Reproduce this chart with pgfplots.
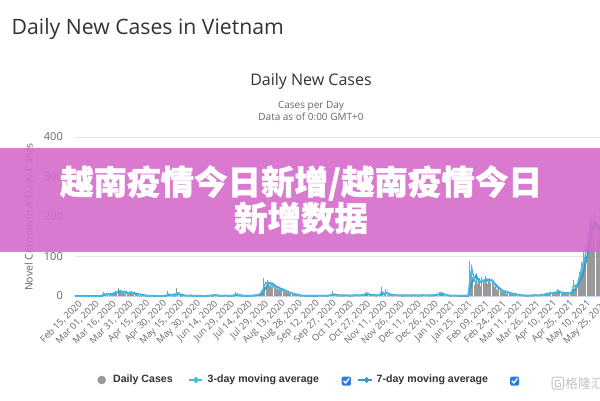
\documentclass[border=0pt]{standalone}
\usepackage{pgfplots}
\pgfplotsset{compat=1.18}
\usepackage{fontspec}
\setmainfont{Open Sans}
\newfontfamily\legendfont{Liberation Sans}
\newfontfamily\cjk{Noto Sans CJK SC}
\newfontfamily\cjkheavy[FakeBold=1.2]{Noto Sans CJK SC}
\definecolor{cTitle}{HTML}{333333}
\definecolor{cSub}{HTML}{666666}
\definecolor{cGrid}{HTML}{E6E6E6}
\definecolor{cAxis}{HTML}{CCD6EB}
\definecolor{cBar}{HTML}{999999}
\definecolor{cThree}{HTML}{41BEEB}
\definecolor{cSeven}{HTML}{2E9AC9}
\definecolor{cBand}{RGB}{214,107,203}
\definecolor{cBox}{HTML}{2A7BE4}
\definecolor{cMark}{HTML}{C4C4C4}
\begin{document}
\begin{tikzpicture}[x=1pt,y=1pt]
\path[use as bounding box,fill=white] (0,0) rectangle (600,400);
\node[anchor=base west,inner sep=0pt,text=cTitle,font=\fontsize{21.2}{23}\selectfont] at (11.5,365) {Daily New Cases in Vietnam};
\node[anchor=base,inner sep=0pt,text=cTitle,font=\fontsize{16}{18}\selectfont] at (311,315) {Daily New Cases};
\node[anchor=base,inner sep=0pt,text=cSub,font=\fontsize{10}{12}\selectfont] at (311,291.7) {Cases per Day};
\node[anchor=base,inner sep=0pt,text=cSub,font=\fontsize{10}{12}\selectfont] at (311,279.3) {Data as of 0:00 GMT+0};
\node[rotate=90,inner sep=0pt,text=cSub,font=\fontsize{10.5}{12}\selectfont] at (30,183) {Novel Coronavirus Daily Cases};
\begin{axis}[
  at={(75pt,104pt)}, anchor=south west, scale only axis,
  width=533.4pt, height=159pt,
  xmin=-2, xmax=470, ymin=0, ymax=400,
  axis lines*=left,
  y axis line style={draw=none},
  x axis line style={draw=cAxis,line width=0.8pt,-},
  ytick={0,100,200,300,400},
  ymajorgrids, grid style={cGrid,line width=0.8pt},
  xtick={0,15,...,465},
  xticklabels={{Feb 15, 2020},{Mar 01, 2020},{Mar 16, 2020},{Mar 31, 2020},{Apr 15, 2020},{Apr 30, 2020},{May 15, 2020},{May 30, 2020},{Jun 14, 2020},{Jun 29, 2020},{Jul 14, 2020},{Jul 29, 2020},{Aug 13, 2020},{Aug 28, 2020},{Sep 12, 2020},{Sep 27, 2020},{Oct 12, 2020},{Oct 27, 2020},{Nov 11, 2020},{Nov 26, 2020},{Dec 11, 2020},{Dec 26, 2020},{Jan 10, 2021},{Jan 25, 2021},{Feb 09, 2021},{Feb 24, 2021},{Mar 11, 2021},{Mar 26, 2021},{Apr 10, 2021},{Apr 25, 2021},{May 10, 2021},{May 25, 2021}},
  major tick length=0pt,
  /pgf/number format/assume math mode=true,
  yticklabel style={font=\fontsize{11}{12}\selectfont,text=cSub,inner sep=0pt,xshift=-12pt},
  xticklabel style={font=\fontsize{9.3}{10}\selectfont,text=cSub,rotate=45,anchor=east,inner sep=0pt,xshift=-2pt,yshift=-7pt},
  clip=true,
]
\addplot[ycomb,draw=cBar,line width=0.75pt,mark=none] coordinates {
(20,1)(21,1)(22,3)(23,9)(24,4)(26,8)(27,5)(28,6)(29,4)(30,4)(31,5)(32,10)(33,10)(34,11)(35,6)(36,19)(37,14)(38,10)(39,11)(40,7)(41,12)(42,5)(43,5)(44,10)(45,8)(46,8)(47,12)(48,9)(49,5)(50,4)(51,4)(52,3)(53,4)(54,8)(55,1)(56,2)(57,1)(58,3)(60,1)(63,2)(64,1)(67,2)(68,1)(73,1)(80,12)(81,2)(84,3)(85,1)(88,19)(89,4)(92,1)(94,3)(96,2)(100,4)(103,1)(106,1)(108,2)(112,1)(115,3)(118,2)(120,4)(122,5)(123,2)(126,1)(129,3)(131,2)(133,1)(136,2)(138,1)(140,11)(141,3)(144,2)(146,1)(149,3)(152,2)(154,1)(156,4)(158,3)(159,5)(160,2)(161,6)(162,8)(163,15)(164,10)(165,45)(166,30)(167,28)(168,40)(169,35)(170,26)(171,30)(172,22)(173,27)(174,20)(175,25)(176,18)(177,22)(178,15)(179,20)(180,14)(181,17)(182,12)(183,16)(184,10)(185,12)(186,8)(187,9)(188,6)(189,7)(190,5)(191,4)(192,6)(193,3)(194,4)(195,2)(196,3)(197,1)(199,2)(201,1)(203,2)(205,1)(208,2)(210,1)(212,2)(215,3)(217,1)(219,2)(221,1)(223,3)(224,2)(226,12)(227,2)(229,3)(231,1)(233,2)(235,4)(237,2)(239,3)(241,1)(243,2)(245,4)(247,3)(249,2)(251,5)(252,3)(254,8)(255,4)(256,11)(257,3)(259,2)(261,4)(263,3)(265,2)(267,5)(268,3)(269,22)(270,4)(272,6)(273,17)(274,3)(276,4)(278,2)(280,3)(282,5)(284,2)(286,3)(288,1)(290,4)(292,2)(294,3)(296,2)(298,4)(300,3)(302,2)(304,3)(306,5)(308,3)(310,2)(312,4)(314,3)(316,5)(318,6)(320,9)(321,7)(322,10)(323,5)(324,4)(326,3)(328,2)(330,1)(332,3)(334,2)(336,1)(338,2)(340,1)(342,2)(344,1)(346,1)
(347,88)(348,55)(349,68)(350,47)(351,28)(352,35)(353,42)(354,30)(355,38)(356,45)(357,25)(358,48)(359,40)(360,33)(361,50)(362,45)(363,30)(364,38)(365,45)(366,32)(367,40)(368,28)(369,22)(370,30)(371,18)(372,15)(373,20)(374,12)(375,15)(376,10)(377,12)(378,8)(379,15)(380,6)(381,10)(382,7)(383,5)(384,8)(385,4)(386,6)(387,3)(388,5)(389,2)(390,3)(392,2)(394,3)(396,2)(398,1)(400,3)(402,2)(404,4)(406,2)(408,3)(410,4)(411,6)(413,5)(414,8)(415,6)(416,4)(417,7)(418,9)(419,6)(420,8)(421,10)(422,7)(423,9)(424,12)(425,17)(426,10)(427,8)(428,6)(429,9)(430,5)(431,7)(432,8)(433,6)(434,9)(435,5)(436,8)(437,12)(438,20)(439,40)(440,15)(441,25)(442,30)(443,45)(444,60)(445,55)(446,85)(447,70)(448,110)(449,95)(450,130)(451,125)(452,160)(453,190)(454,170)(455,200)(456,185)(457,150)(458,210)(459,175)(460,160)(461,140)(462,180)(463,165)
};
\addplot[draw=cSeven,line width=1.6pt,mark=none] coordinates {
(-2,0)(19,0)(20,0.1)(22,0.7)(24,2.6)(26,3.6)(28,5)(30,5.1)(32,6)(34,7.1)(36,9.3)(38,10.9)(40,11)(42,11.1)(44,9.1)(46,8.1)(48,8.1)(50,8.1)(52,6.4)(54,5.1)(56,3.7)(58,3.1)(60,1.7)(62,1.1)(64,0.6)(66,0.6)(68,0.6)(70,0.4)(72,0.3)(76,0.1)(80,1.9)(84,2.4)(88,5.1)(92,3.9)(96,0.9)(100,0.9)(104,0.7)(108,0.4)(112,0.4)(116,0.6)(120,1.3)(124,1.6)(128,0.6)(132,0.9)(136,0.4)(140,2)(144,2.4)(148,0.6)(152,0.7)(156,1)(158,1.4)(160,2.1)(162,3.4)(164,6.1)(165,12.4)(166,16.7)(167,20.7)(168,25.1)(169,28.7)(170,32.6)(171,32.6)(172,31.6)(173,31.1)(174,28.6)(175,26.4)(176,24)(177,23.4)(178,21.3)(179,20.1)(180,19.1)(182,16.6)(184,14.4)(186,11.4)(188,9)(190,7.1)(192,5.3)(194,4.1)(196,2.9)(198,1.6)(202,0.6)(206,0.6)(210,0.6)(214,0.9)(218,0.9)(222,1)(226,2.9)(230,2.7)(234,1.1)(238,1.6)(242,1.1)(246,1.6)(250,1.7)(254,3.1)(258,3.9)(262,2.6)(266,1.6)(270,4.9)(274,7.1)(278,3.3)(282,1.4)(286,1.4)(290,1.1)(294,1.3)(298,1.3)(302,1.3)(306,1.4)(310,1.4)(314,1.3)(318,2.6)(322,5)(326,3.1)(330,0.9)(334,0.9)(338,0.6)(342,0.6)(346,0.6)(347,13.1)(348,20.9)(349,30.6)(350,37.4)(351,41.4)(352,46.3)(353,52.3)(354,43.6)(355,40.9)(356,37.9)(357,34.7)(358,37.6)(359,39.1)(360,37)(361,39.9)(362,40.9)(363,38.7)(364,40.6)(365,40.1)(366,39.9)(367,40)(368,36.9)(369,32.3)(370,30.1)(372,23.6)(374,18.4)(376,14.9)(378,11.1)(380,9.4)(382,8.6)(384,6.9)(386,5.9)(388,4.7)(390,3.3)(394,1.6)(398,1.1)(402,1.1)(406,1.6)(410,1.9)(414,4)(418,6.6)(422,7.4)(426,10)(430,8.7)(434,7.1)(436,7)(438,9.4)(439,14.1)(440,15.4)(441,17.7)(442,21.4)(443,26.7)(444,35)(445,38.6)(446,44.3)(447,48.6)(448,60.6)(449,71.4)(450,86.4)(451,97.1)(452,110.7)(453,131.4)(454,142.9)(455,158.6)(456,165)(457,171.4)(458,181.4)(459,184.3)(460,180)(461,174.3)(462,172.9)(463,167.1)
};
\addplot[draw=cThree,line width=1.5pt,mark=none] coordinates {
(-2,0)(10,0)(19,0)(20,0.3)(21,0.7)(22,1.7)(23,4.3)(24,5.3)(25,4.3)(26,4)(27,4.3)(28,6.3)(29,5)(30,4.7)(31,4.3)(32,6.3)(33,8.3)(34,10.3)(35,9)(36,12)(37,13)(38,14.3)(39,11.7)(40,9.3)(41,10)(42,8)(43,7.3)(44,6.7)(45,7.7)(46,8.7)(47,9.3)(48,9.7)(49,8.7)(50,6)(51,4.3)(52,3.7)(53,3.7)(54,5)(55,4.3)(56,3.7)(57,1.3)(58,2)(59,1.3)(60,1.3)(62,0.3)(64,1)(66,0.3)(68,1)(70,0.3)(73,0.3)(76,0)(79,0)(80,4)(81,4.7)(82,4.7)(83,0.7)(84,1)(85,1.3)(86,1.3)(87,0.3)(88,6.3)(89,7.7)(90,7.7)(91,1.3)(92,0.3)(94,1)(96,0.7)(98,0.7)(100,1.3)(102,0.3)(104,0.3)(106,0.3)(108,0.7)(110,0.7)(112,0.3)(115,1)(118,0.7)(120,1.3)(122,3)(123,2.3)(124,2.3)(126,0.3)(129,1)(131,1.7)(133,0.3)(136,0.7)(138,1)(140,3.7)(141,4.7)(142,4.7)(143,1)(144,0.7)(146,0.3)(149,1)(152,0.7)(154,0.3)(156,1.3)(158,2.3)(159,2.7)(160,3.3)(161,4.3)(162,5.3)(163,9.7)(164,11)(165,23.3)(166,28.3)(167,34.3)(168,32.7)(169,34.3)(170,33.7)(171,30.3)(172,26)(173,26.3)(174,23)(175,24)(176,21)(177,21.7)(178,18.3)(179,19)(180,16.3)(181,17)(182,14.3)(183,15)(184,12.7)(185,12.7)(186,10)(187,9.7)(188,7.7)(189,7.3)(190,6)(191,5.3)(192,5)(193,4.3)(194,4.3)(195,3)(196,3)(197,2)(199,1)(201,1)(203,0.7)(205,1)(208,0.7)(210,1)(212,0.7)(215,1)(217,1.3)(219,1)(221,1)(223,1.3)(224,1.7)(225,1.7)(226,4.7)(227,4.7)(228,4.7)(229,1.7)(231,1.3)(233,0.7)(235,2)(237,2)(239,1.7)(241,1.3)(243,0.7)(245,2)(247,2.3)(249,1.7)(251,2.3)(252,2.7)(254,3.7)(255,5)(256,7.7)(257,6)(258,4.7)(259,1.7)(261,2)(263,1)(265,1.7)(267,2.3)(268,2.7)(269,10)(270,9.7)(271,8.7)(272,3.3)(273,7.7)(274,8.7)(275,6.7)(276,2.3)(278,2)(280,1.7)(282,2.7)(284,1.7)(286,1.7)(288,1.3)(290,2)(292,1.3)(294,1.7)(296,1.3)(298,2)(300,1.7)(302,1.7)(304,1.7)(306,2.7)(308,1.7)(310,1.3)(312,2)(314,2)(316,2.7)(318,3.7)(320,5)(321,5.3)(322,8.7)(323,7.3)(324,6.3)(326,2.3)(328,1.7)(330,0.7)(332,1)(334,1.3)(336,0.7)(338,1)(340,0.7)(342,0.7)(344,1)(346,0.7)(347,29.7)(348,48)(349,70.3)(350,56.7)(351,47.7)(352,36.7)(353,35)(354,35.7)(355,36.7)(356,37.7)(357,36)(358,39.3)(359,37.7)(360,40.3)(361,41)(362,42.7)(363,41.7)(364,37.7)(365,37.7)(366,38.3)(367,39)(368,33.3)(369,30)(370,26.7)(371,23.3)(372,21)(373,17.7)(374,15.7)(375,15.7)(376,12.3)(377,12.3)(378,10)(379,11.7)(380,9.7)(381,10.3)(382,7.7)(383,7.3)(384,6.7)(385,5.7)(386,6)(387,4.3)(388,4.7)(389,3.3)(390,3.3)(392,1.7)(394,1.7)(396,1.7)(398,1)(400,1.3)(402,1.7)(404,2)(406,2)(408,1.7)(410,2.3)(411,3.3)(412,3.3)(413,3.7)(414,4.3)(415,6.3)(416,6)(417,5.7)(418,6.7)(419,7.3)(420,7.7)(421,8)(422,8.3)(423,8.7)(424,9.3)(425,12.7)(426,13)(427,11.7)(428,8)(429,7.7)(430,6.7)(431,7)(432,6.7)(433,7)(434,7.7)(435,6.7)(436,7.3)(437,8.3)(438,13.3)(439,24)(440,25)(441,26.7)(442,23.3)(443,33.3)(444,45)(445,53.3)(446,66.7)(447,70)(448,88.3)(449,91.7)(450,111.7)(451,116.7)(452,138.3)(453,158.3)(454,173.3)(455,186.7)(456,185)(457,178.3)(458,181.7)(459,178.3)(460,181.7)(461,158.3)(462,160)(463,161.7)
};
\end{axis}
% legend
\fill[cBar] (101.7,20) circle (4.3);
\node[anchor=west,inner sep=0pt,text=cTitle,font=\legendfont\bfseries\fontsize{10.6}{12}\selectfont] at (113,20) {Daily Cases};
\draw[cThree,line width=1.5pt] (189,20)--(202,20);
\fill[cThree] (196,23.3)--(199.3,20)--(196,16.7)--(192.7,20)--cycle;
\node[anchor=west,inner sep=0pt,text=cTitle,font=\legendfont\bfseries\fontsize{10.6}{12}\selectfont] at (207.5,20) {3-day moving average};
\fill[cBox,rounded corners=1.5pt] (341.7,14.3) rectangle (350.9,23.5);
\draw[white,line width=1.3pt] (343.6,19.2)--(345.6,17)--(349.1,21.6);
\draw[cSeven,line width=1.5pt] (358,20)--(372,20);
\fill[cSeven] (366.5,23)--(369.5,20)--(366.5,17)--(363.5,20)--cycle;
\node[anchor=west,inner sep=0pt,text=cTitle,font=\legendfont\bfseries\fontsize{10.6}{12}\selectfont] at (376.5,20) {7-day moving average};
\fill[cBox,rounded corners=1.5pt] (510,14.3) rectangle (519.2,23.5);
\draw[white,line width=1.3pt] (511.9,19.2)--(513.9,17)--(517.4,21.6);
% watermark
\draw[cMark,line width=1pt,rounded corners=1.5pt] (552,11) rectangle (563.5,23);
\draw[cMark,line width=1pt] (560,20)--(555,20)--(555,14)--(560.5,14)--(560.5,17)--(558,17);
\node[anchor=west,inner sep=0pt,text=cMark,font=\cjk\fontsize{13}{14}\selectfont] at (565,16.8) {格隆汇};
% overlay band
\fill[cBand,opacity=0.9] (0,148) rectangle (600,252);
\node[inner sep=0pt,text=white,font=\cjkheavy\bfseries\fontsize{33.5}{36}\selectfont] at (301,217) {越南疫情今日新增/越南疫情今日};
\node[inner sep=0pt,text=white,font=\cjkheavy\bfseries\fontsize{33.5}{36}\selectfont] at (301,182) {新增数据};
\end{tikzpicture}
\end{document}
